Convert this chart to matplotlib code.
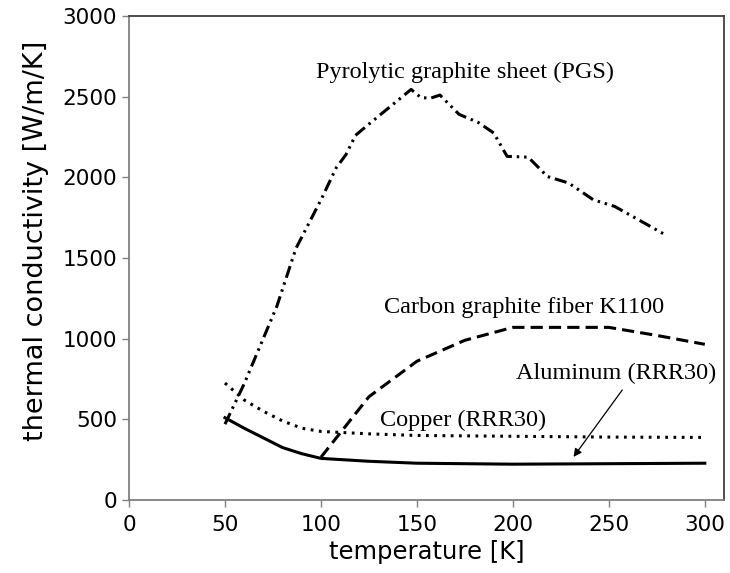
import matplotlib
matplotlib.use("Agg")
import matplotlib.pyplot as plt

# ---- data ----
pgs_T = [50, 60, 77, 87, 100, 108, 113, 118, 125, 147, 152, 157, 162, 172, 182, 190, 197, 208, 218, 229, 242, 253, 265, 280]
pgs_k = [470, 720, 1200, 1560, 1860, 2060, 2140, 2260, 2330, 2545, 2495, 2490, 2510, 2390, 2340, 2275, 2130, 2125, 2005, 1965, 1860, 1820, 1740, 1640]

cf_T = [100, 125, 150, 175, 200, 250, 275, 300]
cf_k = [265, 640, 860, 990, 1070, 1070, 1020, 965]

cu_T = [50, 60, 70, 80, 90, 100, 125, 150, 200, 250, 300]
cu_k = [725, 620, 550, 490, 445, 425, 410, 400, 395, 390, 388]

al_T = [50, 60, 70, 80, 90, 100, 125, 150, 200, 250, 300]
al_k = [510, 445, 385, 325, 287, 258, 240, 228, 222, 225, 228]

x_ticks = [0, 50, 100, 150, 200, 250, 300]
y_ticks = [0, 500, 1000, 1500, 2000, 2500, 3000]

fig = plt.figure(figsize=(7.30, 5.73), dpi=100)
ax = fig.add_axes([129/730, 73/573, (724-129)/730, (500-16)/573])

lw = 2.2
ax.plot(pgs_T, pgs_k, color="black", lw=lw, linestyle=(0, (4, 1.6, 0.8, 1.6, 0.8, 1.6)), dash_capstyle="butt")
ax.plot(cf_T, cf_k, color="black", lw=lw, linestyle=(0, (4, 2)), dash_capstyle="butt")
ax.plot(cu_T, cu_k, color="black", lw=lw, linestyle=(0, (0.9, 1.8)), dash_capstyle="butt")
ax.plot(al_T, al_k, color="black", lw=lw, linestyle="-")

ax.set_xlim(0, 310)
ax.set_ylim(0, 3000)
ax.set_xticks(x_ticks)
ax.set_yticks(y_ticks)

for lab in ax.get_xticklabels() + ax.get_yticklabels():
    lab.set_fontfamily("DejaVu Sans")
    lab.set_fontsize(15.5)
ax.tick_params(axis="both", direction="out", length=5, width=1, color="#808080")
ax.tick_params(axis="x", pad=5.5)
ax.tick_params(axis="y", pad=3.5)

ax.set_xlabel("temperature [K]", fontsize=17.5, family="DejaVu Sans", labelpad=4)
ax.set_ylabel("thermal conductivity [W/m/K]", fontsize=19.5, family="DejaVu Sans")
ax.yaxis.set_label_coords(-0.135, 0.535)

for s in ["left", "bottom"]:
    ax.spines[s].set_color("#808080")
    ax.spines[s].set_linewidth(1.3)
for s in ["top", "right"]:
    ax.spines[s].set_color("#404040")
    ax.spines[s].set_linewidth(1.3)

serif = "Liberation Serif"
fs = 17.5
ax.text(175, 2653, "Pyrolytic graphite sheet (PGS)", family=serif, fontsize=fs, ha="center", va="center")
ax.text(206, 1196, "Carbon graphite fiber K1100", family=serif, fontsize=fs, ha="center", va="center")
ax.text(254, 787, "Aluminum (RRR30)", family=serif, fontsize=fs, ha="center", va="center")
ax.text(174, 496, "Copper (RRR30)", family=serif, fontsize=fs, ha="center", va="center")
ax.annotate("", xy=(231.6, 267), xytext=(257, 682),
            arrowprops=dict(arrowstyle="-|>", color="black", lw=0.9, mutation_scale=12, shrinkA=0, shrinkB=0))

fig.savefig("out.png", dpi=100)
